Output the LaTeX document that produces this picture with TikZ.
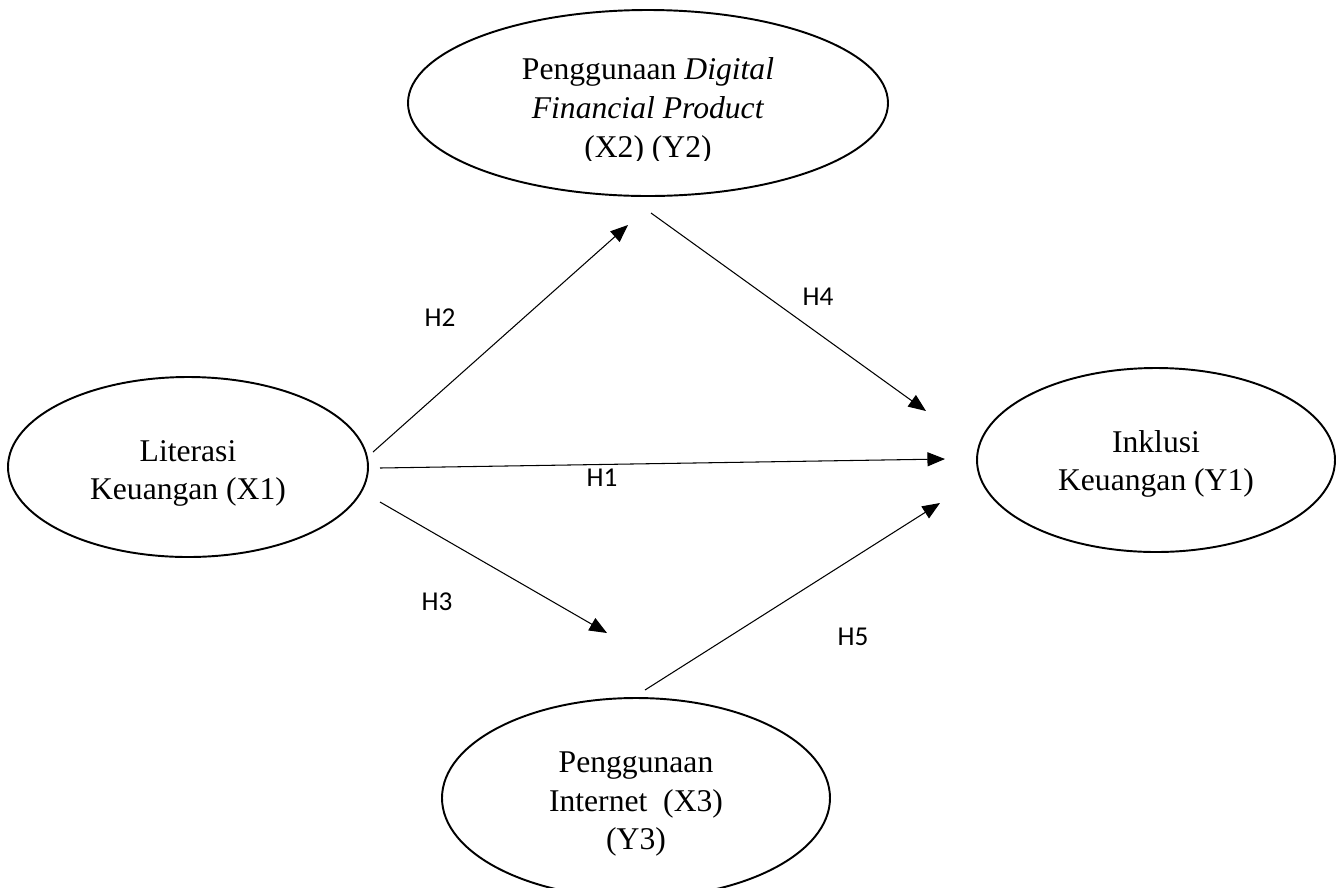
\documentclass[tikz,border=0pt]{standalone}
\usepackage{fontspec}
\setmainfont{Liberation Serif}
\newfontfamily\hypfont{Carlito}
\usetikzlibrary{shapes.geometric,arrows.meta}

\begin{document}
\begin{tikzpicture}[>={Triangle[length=10pt,width=8pt]},
  var/.style={draw,ellipse,line width=1.1pt,inner sep=0pt},
  vartext/.style={align=center,inner sep=0pt,font=\fontsize{18}{22}\selectfont},
  hyp/.style={font=\hypfont\fontsize{15.5}{18}\selectfont}]
\clip (0,0) rectangle (26.84,-17.74);
% constructs
\node[var,minimum width=9.6cm,minimum height=3.72cm] (dfp) at (12.96,-2.06) {};
\node[var,minimum width=7.2cm,minimum height=3.6cm] (lit) at (3.76,-9.34) {};
\node[var,minimum width=7.16cm,minimum height=3.68cm] (ink) at (23.12,-9.2) {};
\node[var,minimum width=7.76cm,minimum height=4cm] (net) at (12.72,-15.96) {};
% their texts (the last line of the top one is cut off at the bottom)
\begin{scope}
\clip (8,0) rectangle (18,-3.2);
\node[vartext] (dfptext) at ([yshift=-0.16cm]dfp.center) {Penggunaan \textit{Digital}\\ \textit{Financial Product}\\ (X2) (Y2)};
\end{scope}
\node[vartext] (littext) at ([yshift=-0.13cm]lit.center) {Literasi\\ Keuangan (X1)};
\node[vartext] (inktext) at ([yshift=-0.08cm]ink.center) {Inklusi\\ Keuangan (Y1)};
\node[vartext] (nettext) at ([yshift=-0.12cm]net.center) {Penggunaan\\ Internet\ \ (X3)\\ (Y3)};
% free ends of the paths (they stop short of the ellipses)
\coordinate (litA) at (7.46,-9.04);  \coordinate (dfpIn) at (12.56,-4.5);
\coordinate (dfpOut) at (13.02,-4.26); \coordinate (inkA) at (18.52,-8.22);
\coordinate (litB) at (7.6,-9.36);   \coordinate (inkB) at (18.9,-9.18);
\coordinate (litC) at (7.6,-10.04);  \coordinate (netIn) at (12.14,-12.66);
\coordinate (netOut) at (12.9,-13.8); \coordinate (inkC) at (18.8,-10.06);
\foreach \a/\b in {litA/dfpIn,dfpOut/inkA,litB/inkB,litC/netIn,netOut/inkC}{\draw[->,line width=0.6pt] (\a) -- (\b);}
% hypotheses
\node[hyp] (h1) at (12.04,-9.56) {H1};
\node[hyp] (h2) at (8.8,-6.36) {H2};
\node[hyp] (h3) at (8.74,-12.04) {H3};
\node[hyp] (h4) at (16.36,-5.94) {H4};
\node[hyp] (h5) at (17.06,-12.74) {H5};
\end{tikzpicture}
\end{document}
